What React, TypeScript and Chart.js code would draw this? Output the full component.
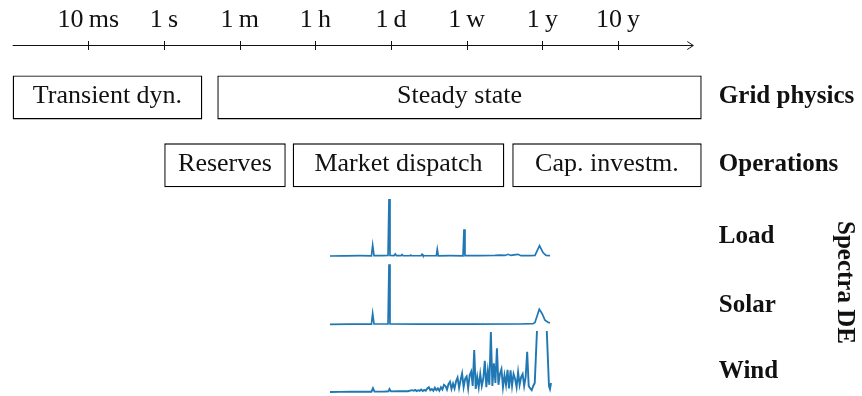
import React, { useEffect, useRef } from 'react';
import { Chart, registerables } from 'chart.js';

Chart.register(...registerables);

// ---- Time axis (positions are tick indices on the log-period axis) ----
const TIME_TICK_POS = [0, 1, 2, 3, 4, 5, 6, 7];
const TIME_TICK_LABELS = ['10\u2009ms', '1\u2009s', '1\u2009m', '1\u2009h', '1\u2009d', '1\u2009w', '1\u2009y', '10\u2009y'];
const AXIS_START = -1.0;
const AXIS_END = 7.995;

// ---- Time-scale boxes ----
const GRID_LABELS = ['Transient dyn.', 'Steady state'];
const GRID_START = [-1.0, 1.705];
const GRID_END = [1.507, 8.106];

const OPS_LABELS = ['Reserves', 'Market dispatch', 'Cap. investm.'];
const OPS_START = [1.004, 2.701, 5.603];
const OPS_END = [2.609, 5.498, 8.106];

// ---- Row labels ----
const ROW_LABELS = ['Grid physics', 'Operations', 'Load', 'Solar', 'Wind'];
const ROW_LABEL_POS = [0, 1, 2.06, 3.075, 4.05];
const SIDE_TITLE = 'Spectra DE';

// ---- Spectra (x: period on the tick-index axis, y: normalised amplitude) ----
const LOAD_X = [3.194, 3.392, 3.591, 3.742, 3.758, 3.776, 3.881, 3.961, 3.974, 3.987, 4.040, 4.057, 4.073, 4.132, 4.146, 4.159, 4.251, 4.261, 4.271, 4.397, 4.410, 4.423, 4.599, 4.612, 4.625, 4.780, 4.952, 4.965, 4.978, 5.176, 5.375, 5.441, 5.507, 5.547, 5.586, 5.626, 5.679, 5.718, 5.837, 5.903, 5.963, 6.009, 6.049, 6.102];
const LOAD_Y = [0, 0.003, 0.005, 0.004, 0.19, 0.005, 0.005, 0.008, 1.0, 0.01, 0.005, 0.035, 0.005, 0.005, 0.025, 0.004, 0.004, 0.015, 0.004, 0.004, 0.03, 0.004, 0.004, 0.12, 0.004, 0.005, 0.004, 0.47, 0.005, 0.005, 0.01, 0.015, 0.01, 0.03, 0.01, 0.02, 0.03, 0.005, 0.005, 0.01, 0.18, 0.06, 0.01, 0.005];

const SOLAR_X = [3.194, 3.458, 3.742, 3.758, 3.776, 3.961, 3.974, 3.987, 4.383, 5.044, 5.705, 5.877, 5.903, 5.960, 5.996, 6.035, 6.075, 6.101];
const SOLAR_Y = [0, 0.003, 0.004, 0.18, 0.005, 0.005, 1.0, 0.005, 0.004, 0.003, 0.005, 0.01, 0.03, 0.25, 0.18, 0.07, 0.035, 0.02];

const WIND_X = [
  3.194, 3.326, 3.458, 3.590, 3.742, 3.762, 3.782, 3.921, 3.967, 3.980, 4.000, 4.093, 4.172, 4.225, 4.278,
  4.30, 4.32, 4.34, 4.36, 4.38, 4.40, 4.42, 4.44, 4.46, 4.48, 4.50, 4.52, 4.54, 4.56, 4.58, 4.60, 4.62, 4.64, 4.66, 4.68,
  4.70, 4.72, 4.74, 4.76, 4.78, 4.80, 4.82, 4.84, 4.86, 4.88, 4.90, 4.92, 4.94, 4.96, 4.98, 5.00, 5.02, 5.04, 5.06, 5.08,
  5.10, 5.12, 5.14, 5.16, 5.18, 5.20, 5.22, 5.24, 5.26, 5.28, 5.30, 5.32, 5.34, 5.36, 5.38, 5.40, 5.42, 5.44, 5.46, 5.48,
  5.50, 5.52, 5.54, 5.56, 5.58, 5.60, 5.62, 5.64, 5.66, 5.68, 5.70, 5.72, 5.74, 5.76, 5.78, 5.80, 5.82, 5.84, 5.86, 5.88,
  5.90, 5.996, 6.088, 6.101, 6.115,
];
const WIND_Y = [
  0, 0.002, 0.003, 0.004, 0.005, 0.065, 0.006, 0.008, 0.01, 0.05, 0.01, 0.012, 0.015, 0.012, 0.03,
  0.02, 0.035, 0.015, 0.03, 0.02, 0.04, 0.015, 0.035, 0.02, 0.06, 0.08, 0.03, 0.05, 0.02, 0.07, 0.03, 0.06, 0.02, 0.08, 0.04,
  0.12, 0.1, 0.04, 0.13, 0.17, 0.05, 0.14, 0.06, 0.18, 0.24, 0.07, 0.2, 0.31, 0.08, 0.22, 0.26, 0.06, 0.28, 0.34, 0.1,
  0.7, 0.05, 0.25, 0.08, 0.3, 0.1, 0.22, 0.52, 0.08, 0.35, 0.12, 1.0, 0.1, 0.48, 0.15, 0.73, 0.12, 0.3, 0.38, 0.08,
  0.28, 0.12, 0.37, 0.06, 0.36, 0.1, 0.3, 0.22, 0.08, 0.33, 0.12, 0.25, 0.3, 0.1, 0.25, 0.67, 0.1, 0.06, 0.03, 0.1,
  0.15, 3.0, 0.1, 0.05, 0.15,
];

// ---- Layout constants (pixels) ----
const W = 862;
const H = 396;
const X_MIN = -1;
const X_MAX = 10;
const X_ORIGIN_PX = 88.3;
const X_UNIT_PX = 75.67;
const ROW0_PX = 97.4;
const ROW_STEP_PX = 67.9;
const AXIS_ROW = -0.779;
const BAND_LOAD = { base: 256, top: 199 };
const BAND_SOLAR = { base: 324.3, top: 264.3 };
const BAND_WIND = { base: 392, top: 332 };
const LABEL_X = 8.333;
const SIDE_TITLE_X = 9.91;
const SIDE_TITLE_ROW = 2.726;
const BLUE = '#1f77b4';
const INK = '#111';
const FONT = '"Liberation Serif", "DejaVu Serif", serif';

function bandScale(b: { base: number; top: number }) {
  const unit = b.base - b.top;
  const min = -(H - b.base) / unit;
  return { min, max: min + H / unit };
}

const textPlugin = {
  id: 'decor',
  afterDraw(chart: any) {
    const { ctx, scales } = chart;
    const xs = scales.x;
    const ys = scales.y;
    ctx.save();
    // time axis
    const ay = Math.round(ys.getPixelForValue(AXIS_ROW)) + 0.5;
    const x0 = xs.getPixelForValue(AXIS_START);
    const x1 = xs.getPixelForValue(AXIS_END);
    ctx.strokeStyle = '#111';
    ctx.lineWidth = 1;
    ctx.beginPath();
    ctx.moveTo(x0, ay);
    ctx.lineTo(x1, ay);
    ctx.moveTo(x1 - 6, ay - 4);
    ctx.lineTo(x1, ay);
    ctx.lineTo(x1 - 6, ay + 4);
    TIME_TICK_POS.forEach((p) => {
      const px = Math.round(xs.getPixelForValue(p)) + 0.5;
      ctx.moveTo(px, ay - 4.5);
      ctx.lineTo(px, ay + 4.5);
    });
    ctx.stroke();
    ctx.fillStyle = INK;
    ctx.font = `400 26px ${FONT}`;
    ctx.textAlign = 'center';
    ctx.textBaseline = 'alphabetic';
    TIME_TICK_POS.forEach((p, i) => {
      ctx.fillText(TIME_TICK_LABELS[i], xs.getPixelForValue(p), ay - 18.8);
    });
    // box labels
    chart.data.datasets.forEach((ds: any, di: number) => {
      if (!ds.boxLabels) return;
      const meta = chart.getDatasetMeta(di);
      meta.data.forEach((el: any, j: number) => {
        const { x, base, y } = el.getProps(['x', 'base', 'y'], true);
        ctx.fillText(ds.boxLabels[j], (x + base) / 2, y + 6);
      });
    });
    // row labels
    ctx.font = `700 25px ${FONT}`;
    ctx.textAlign = 'left';
    const lx = xs.getPixelForValue(LABEL_X);
    ROW_LABELS.forEach((lab, i) => {
      ctx.fillText(lab, lx, ys.getPixelForValue(ROW_LABEL_POS[i]) + 5.5);
    });
    // side title
    ctx.translate(xs.getPixelForValue(SIDE_TITLE_X), ys.getPixelForValue(SIDE_TITLE_ROW));
    ctx.rotate(Math.PI / 2);
    ctx.textAlign = 'center';
    ctx.fillText(SIDE_TITLE, 0, 0);
    ctx.restore();
  },
};

export default function App() {
  const ref = useRef<HTMLCanvasElement | null>(null);
  useEffect(() => {
    if (!ref.current) return;
    const load = bandScale(BAND_LOAD);
    const solar = bandScale(BAND_SOLAR);
    const wind = bandScale(BAND_WIND);
    const chartAreaW = (X_MAX - X_MIN) * X_UNIT_PX;
    const padLeft = X_ORIGIN_PX + X_MIN * X_UNIT_PX;
    const padRight = W - padLeft - chartAreaW;
    const boxDs = (labels: string[], starts: number[], ends: number[], row: number) => ({
      type: 'bar',
      indexAxis: 'y',
      xAxisID: 'x',
      yAxisID: 'y',
      data: starts.map((s, i) => ({ x: [s, ends[i]], y: row })),
      boxLabels: labels,
      backgroundColor: '#ffffff',
      borderColor: '#000',
      borderWidth: 1.4,
      borderSkipped: false,
      barThickness: 44,
      inflateAmount: 0,
      grouped: false,
      clip: false,
    });
    const lineDs = (xsArr: number[], ysArr: number[], axis: string, width: number, clip: any) => ({
      type: 'line',
      xAxisID: 'x',
      yAxisID: axis,
      data: xsArr.map((x, i) => ({ x, y: ysArr[i] })),
      borderColor: BLUE,
      borderWidth: width,
      pointRadius: 0,
      tension: 0,
      fill: false,
      clip,
    });
    const chart = new Chart(ref.current, {
      type: 'line',
      data: {
        datasets: [
          boxDs(GRID_LABELS, GRID_START, GRID_END, 0),
          boxDs(OPS_LABELS, OPS_START, OPS_END, 1),
          lineDs(LOAD_X, LOAD_Y, 'yLoad', 1.7, false),
          lineDs(SOLAR_X, SOLAR_Y, 'ySolar', 1.7, false),
          lineDs(WIND_X, WIND_Y, 'yWind', 1.9, { left: false, right: false, bottom: false, top: -(BAND_WIND.top - 1) }),
        ] as any,
      },
      options: {
        responsive: false,
        maintainAspectRatio: false,
        animation: false,
        events: [],
        layout: { padding: { left: padLeft, right: padRight, top: 0, bottom: 0 } },
        plugins: { legend: { display: false }, tooltip: { enabled: false }, title: { display: false } },
        scales: {
          x: { type: 'linear', min: X_MIN, max: X_MAX, display: false, bounds: 'data', offset: false },
          y: {
            type: 'linear', axis: 'y', reverse: true, display: false, bounds: 'data', offset: false,
            min: -ROW0_PX / ROW_STEP_PX, max: (H - ROW0_PX) / ROW_STEP_PX,
          },
          yLoad: { type: 'linear', axis: 'y', display: false, bounds: 'data', min: load.min, max: load.max },
          ySolar: { type: 'linear', axis: 'y', display: false, bounds: 'data', min: solar.min, max: solar.max },
          yWind: { type: 'linear', axis: 'y', display: false, bounds: 'data', min: wind.min, max: wind.max },
        } as any,
      },
      plugins: [textPlugin],
    });
    return () => chart.destroy();
  }, []);
  return (
    <div style={{ position: 'fixed', left: 0, top: 0, width: W, height: H, background: '#fff' }}>
      <canvas ref={ref} width={W} height={H} style={{ width: W, height: H, display: 'block' }} />
    </div>
  );
}
